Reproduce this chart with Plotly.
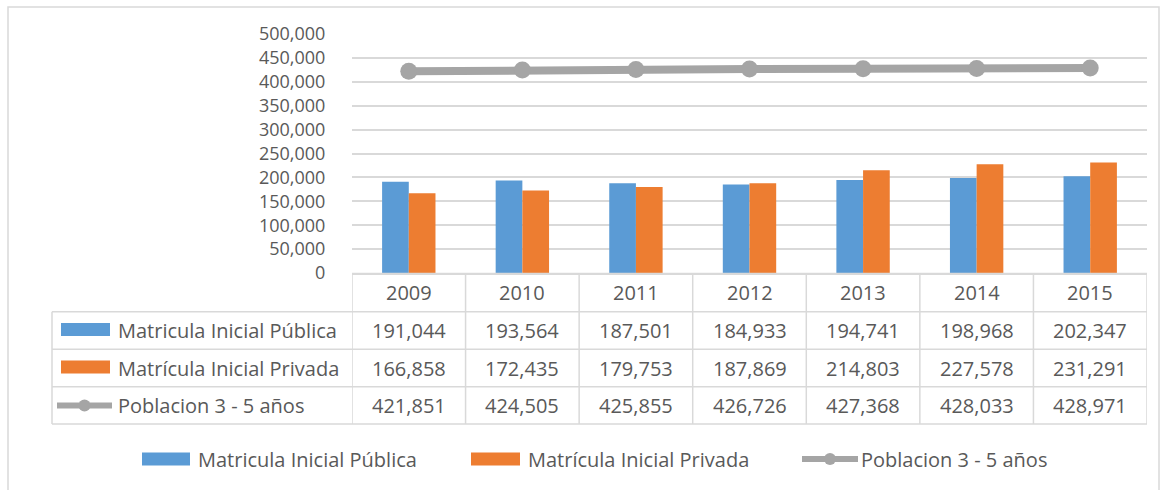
import plotly.graph_objects as go

# ---------------------------------------------------------------------------
# data
# ---------------------------------------------------------------------------
years = ["2009", "2010", "2011", "2012", "2013", "2014", "2015"]
publica = [191044, 193564, 187501, 184933, 194741, 198968, 202347]
privada = [166858, 172435, 179753, 187869, 214803, 227578, 231291]
poblacion = [421851, 424505, 425855, 426726, 427368, 428033, 428971]

series_names = ["Matricula Inicial Pública", "Matrícula Inicial Privada", "Poblacion 3 - 5 años"]
y_ticks = list(range(0, 500001, 50000))

# ---------------------------------------------------------------------------
# layout helpers (pixel -> paper)
# ---------------------------------------------------------------------------
W, H = 1162, 490
ML, MR, MT, MB = 352, 15, 34, 217
PW, PH = W - ML - MR, H - MT - MB

BLUE = "#5B9BD5"
ORANGE = "#ED7D31"
GRAY = "#A5A5A5"
GRID = "#D9D9D9"
TEXT = "#595959"
FONT = "Open Sans"
FS = 20


def px(x):
    return (x - ML) / PW


def py(y):
    return (H - MB - y) / PH


fig = go.Figure()
fig.add_trace(go.Bar(x=years, y=publica, name=series_names[0], marker=dict(color=BLUE, line_width=0)))
fig.add_trace(go.Bar(x=years, y=privada, name=series_names[1], marker=dict(color=ORANGE, line_width=0)))
fig.add_trace(go.Scatter(
    x=years, y=poblacion, name=series_names[2], mode="lines+markers",
    line=dict(color=GRAY, width=8), marker=dict(color=GRAY, size=17),
))

shapes = []
annotations = []

# outer chart border
shapes.append(dict(type="rect", xref="paper", yref="paper", x0=px(8), x1=px(1159), y0=py(7), y1=py(500),
                   line=dict(color=GRID, width=1.5), layer="below"))

# data table grid
row_lines = [273.5, 311.7, 349.2, 386.7, 424]
for i, yl in enumerate(row_lines):
    x0 = px(352) if i == 0 else px(52)
    shapes.append(dict(type="line", xref="paper", yref="paper", x0=x0, x1=px(1147), y0=py(yl), y1=py(yl),
                       line=dict(color=GRID, width=1.5)))
for k in range(len(years) + 1):
    shapes.append(dict(type="line", xref="x", yref="paper", x0=k - 0.5, x1=k - 0.5, y0=py(273.5), y1=py(424),
                       line=dict(color=GRID, width=1.5)))
shapes.append(dict(type="line", xref="paper", yref="paper", x0=px(52), x1=px(52), y0=py(311.7), y1=py(424),
                   line=dict(color=GRID, width=1.5)))

# header + values (x = category index on the shared x axis)
row_centers = [292.5, 330.5, 368, 405.5]
for j, yr in enumerate(years):
    annotations.append(dict(x=j, xref="x", y=py(row_centers[0]), yref="paper", text=yr, showarrow=False,
                            xanchor="center", yanchor="middle"))
    for r, vals in enumerate([publica, privada, poblacion]):
        annotations.append(dict(x=j, xref="x", y=py(row_centers[r + 1]), yref="paper", text=f"{vals[j]:,}",
                                showarrow=False, xanchor="center", yanchor="middle"))


def legend_key(kind, color, x0, x1, yc):
    if kind == "bar":
        shapes.append(dict(type="rect", xref="paper", yref="paper", x0=px(x0), x1=px(x1),
                           y0=py(yc - 6.5), y1=py(yc + 6.5), fillcolor=color, line_width=0))
    else:
        shapes.append(dict(type="line", xref="paper", yref="paper", x0=px(x0), x1=px(x1),
                           y0=py(yc), y1=py(yc), line=dict(color=color, width=6)))
        xm = (x0 + x1) / 2
        shapes.append(dict(type="circle", xref="paper", yref="paper", x0=px(xm - 6), x1=px(xm + 6),
                           y0=py(yc - 6), y1=py(yc + 6), fillcolor=color, line_width=0))


kinds = ["bar", "bar", "line"]
colors = [BLUE, ORANGE, GRAY]

# keys inside the table
for r in range(3):
    yc = row_centers[r + 1]
    if kinds[r] == "bar":
        legend_key("bar", colors[r], 61, 110, yc - 1)
    else:
        legend_key("line", colors[r], 57, 112, yc)
    annotations.append(dict(x=px(116), xref="paper", y=py(yc), yref="paper", text=series_names[r],
                            showarrow=False, xanchor="left", yanchor="middle"))

# bottom legend
leg_y = 459
leg_pos = [(142, 190, 196), (471, 520, 526), (802, 858, 859)]
for r in range(3):
    x0, x1, xt = leg_pos[r]
    legend_key(kinds[r], colors[r], x0, x1, leg_y)
    annotations.append(dict(x=px(xt), xref="paper", y=py(leg_y), yref="paper", text=series_names[r],
                            showarrow=False, xanchor="left", yanchor="middle"))

fig.update_layout(
    width=W, height=H,
    margin=dict(l=ML, r=MR, t=MT, b=MB),
    paper_bgcolor="white", plot_bgcolor="white",
    font=dict(family=FONT, size=FS, color=TEXT),
    barmode="group", bargap=0.53, bargroupgap=0,
    showlegend=False,
    shapes=shapes, annotations=annotations,
)
fig.update_xaxes(showticklabels=False, showgrid=False, showline=True, linecolor=GRID, linewidth=1.5,
                 range=[-0.5, 6.5], fixedrange=True)
fig.update_yaxes(range=[0, 500000], tickvals=y_ticks, tickformat=",", showgrid=True, gridcolor=GRID,
                 gridwidth=1.5, zeroline=False, showline=False, ticks="outside", ticklen=22,
                 tickcolor="rgba(0,0,0,0)", tickfont=dict(size=18), fixedrange=True)

# page body has a default 8px margin; drop it so the figure sits at the window origin
fig.write_html("out.html", config={"displayModeBar": False},
               post_script="document.body.style.margin='0px';")
